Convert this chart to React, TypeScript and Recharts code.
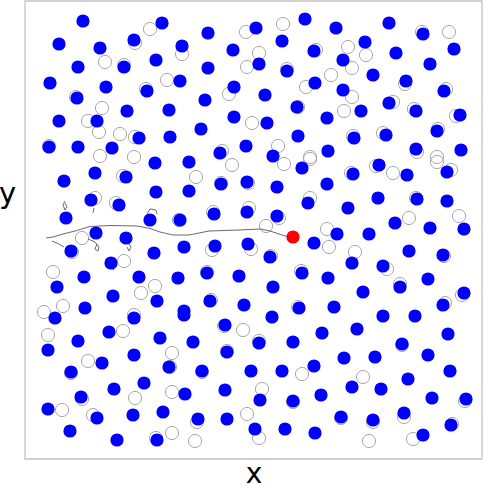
import React from 'react';
import { ScatterChart, Scatter, XAxis, YAxis, ReferenceArea } from 'recharts';

// particle positions (x, y) in box units; y grows downward
const bluePoints: [number, number][] = [
  [83,21],[162,23],[59,44],[100,48],[134,40],[78,67],[124,67],[156,60],[50,83],[106,87],
  [147,91],[77,98],[127,111],[169,110],[59,121],[97,121],[139,138],[170,137],[49,147],[78,147],
  [112,148],[305,19],[256,28],[208,33],[182,46],[282,41],[233,50],[314,51],[259,64],[208,68],
  [287,71],[180,81],[234,87],[315,83],[265,95],[205,100],[297,107],[234,117],[267,123],[201,129],
  [298,136],[246,146],[220,153],[273,156],[336,28],[389,23],[423,34],[365,42],[396,53],[454,49],
  [343,60],[430,64],[373,75],[406,81],[343,90],[444,91],[389,103],[416,111],[361,111],[327,118],
  [460,115],[437,131],[354,138],[386,135],[328,151],[416,149],[461,150],[155,163],[95,173],[126,177],
  [64,181],[156,192],[91,200],[119,205],[66,218],[150,220],[96,233],[126,238],[71,251],[154,253],
  [111,263],[84,277],[139,277],[57,287],[113,296],[157,301],[85,308],[189,162],[302,168],[221,184],
  [247,182],[189,191],[277,187],[327,184],[308,203],[214,214],[247,212],[277,216],[180,220],[314,243],
  [184,247],[215,246],[248,244],[270,257],[178,278],[207,273],[239,276],[302,273],[328,278],[273,287],
  [210,301],[244,305],[299,308],[184,311],[379,165],[353,174],[407,175],[447,172],[378,198],[417,199],
  [447,201],[348,208],[395,223],[430,228],[464,229],[337,234],[369,234],[409,251],[443,255],[352,263],
  [383,266],[428,279],[400,287],[363,292],[464,293],[334,307],[443,305],[383,316],[415,316],[55,318],
  [134,318],[109,332],[78,341],[160,338],[48,350],[134,355],[102,363],[169,367],[71,372],[144,383],
  [114,389],[81,397],[48,409],[97,418],[133,415],[163,412],[70,431],[117,440],[157,440],[184,315],
  [272,317],[225,325],[193,342],[259,343],[293,342],[322,333],[227,352],[202,371],[251,371],[282,371],
  [314,366],[185,394],[225,390],[260,400],[293,401],[321,395],[198,419],[227,419],[255,429],[285,429],
  [315,433],[357,329],[448,334],[402,344],[344,358],[375,357],[428,355],[450,371],[408,379],[352,387],
  [381,389],[432,398],[466,399],[341,417],[373,420],[404,413],[451,425],[423,435],
];

const openPoints: [number, number][] = [
  [150,29],[135,43],[105,62],[124,65],[167,80],[146,89],[102,108],[88,121],[99,132],[120,134],
  [135,137],[49,146],[76,97],[100,156],[134,157],[283,24],[246,32],[182,54],[259,53],[247,67],
  [316,50],[287,69],[229,94],[306,87],[331,75],[298,107],[252,123],[278,146],[222,151],[310,157],
  [449,32],[422,32],[348,47],[366,55],[352,68],[405,84],[352,97],[344,111],[393,102],[414,109],
  [446,89],[456,116],[438,129],[353,136],[383,133],[417,152],[437,157],[123,176],[95,198],[116,203],
  [82,238],[72,252],[124,261],[53,272],[141,293],[155,286],[63,306],[44,312],[134,315],[232,165],
  [284,164],[310,159],[196,177],[221,183],[248,183],[310,198],[213,212],[249,208],[279,218],[266,226],
  [327,229],[212,250],[251,249],[271,256],[207,272],[301,271],[211,300],[298,307],[179,220],[376,166],
  [393,173],[437,162],[451,170],[351,173],[416,198],[409,218],[459,216],[329,247],[355,252],[387,269],
  [444,256],[400,284],[462,295],[445,303],[48,335],[123,331],[172,353],[88,361],[71,373],[172,392],
  [135,398],[82,399],[62,410],[93,415],[170,367],[172,433],[156,438],[243,330],[224,326],[227,351],
  [259,341],[202,372],[302,374],[262,389],[293,402],[247,414],[197,422],[195,441],[259,438],[363,377],
  [402,345],[465,401],[341,418],[373,422],[404,417],[452,424],[369,441],[413,439],
];

const redPoint: [number, number][] = [[293,237]];

const trajectory: [number, number][] = [
  [46,238],[53,237],[63,234],[75,231],[90,226.5],[110,225.5],[137,226],[150,228.5],[160,232],
  [173,235],[189,235],[209,231],[239,230],[260,229],[270,231],[282,235],[289,237],[293,237],
];
const squiggleA: [number, number][] = [[52,241],[58,243.5],[64,247]];
const squiggleB: [number, number][] = [[88,239],[95,242],[99,247],[98,251],[95,249],[97,244]];
const squiggleC: [number, number][] = [[65,201],[63,205],[65,210],[67,207],[65,203]];
const squiggleD: [number, number][] = [[128,242],[131,247],[129,251],[127,247]];
const squiggleE: [number, number][] = [[147,214],[150,209],[156,210],[157,214]];
const squiggleF: [number, number][] = [[94,208],[93,213]];
const squiggleG: [number, number][] = [[109,266],[114,270]];

const toData = (arr: [number, number][]) => arr.map(([x, y]) => ({ x, y }));

const blueShape = (p: any) => <circle cx={p.cx} cy={p.cy} r={6.6} fill="#0000ff" />;
const openShape = (p: any) => (
  <circle cx={p.cx} cy={p.cy} r={6.6} fill="none" stroke="#a8a8a8" strokeWidth={1} />
);
const redShape = (p: any) => <circle cx={p.cx} cy={p.cy} r={6.6} fill="#ff0000" />;
const noShape = () => <g />;

const lineStyle = { stroke: '#444444', strokeWidth: 0.8 };

export default function App() {
  const squiggles = [squiggleA, squiggleB, squiggleC, squiggleD, squiggleE, squiggleF, squiggleG];
  return (
    <div style={{ position: 'absolute', left: 0, top: 0, width: 484, height: 485, background: '#fff' }}>
      <ScatterChart width={484} height={485} margin={{ top: 1, right: 2, bottom: 26, left: 25 }}>
        <XAxis type="number" dataKey="x" domain={[25, 482]} hide allowDataOverflow />
        <YAxis type="number" dataKey="y" domain={[1, 459]} reversed hide allowDataOverflow />
        <ReferenceArea x1={25} x2={482} y1={1} y2={459} fill="none" stroke="#c4c4c4" strokeWidth={1.3} />
        <Scatter data={toData(openPoints)} shape={openShape} isAnimationActive={false} />
        <Scatter data={toData(trajectory)} shape={noShape} line={lineStyle} isAnimationActive={false} />
        {squiggles.map((s, i) => (
          <Scatter key={i} data={toData(s)} shape={noShape} line={lineStyle} isAnimationActive={false} />
        ))}
        <Scatter data={toData(bluePoints)} shape={blueShape} isAnimationActive={false} />
        <Scatter data={toData(redPoint)} shape={redShape} isAnimationActive={false} />
      </ScatterChart>
      <svg width={484} height={485} style={{ position: 'absolute', left: 0, top: 0, pointerEvents: 'none' }}>
        <text x={254} y={482.5} textAnchor="middle" fontFamily="DejaVu Sans" fontSize={28} fill="#000">x</text>
        <text x={7.5} y={202.5} textAnchor="middle" fontFamily="DejaVu Sans" fontSize={29} fill="#000">y</text>
      </svg>
    </div>
  );
}
